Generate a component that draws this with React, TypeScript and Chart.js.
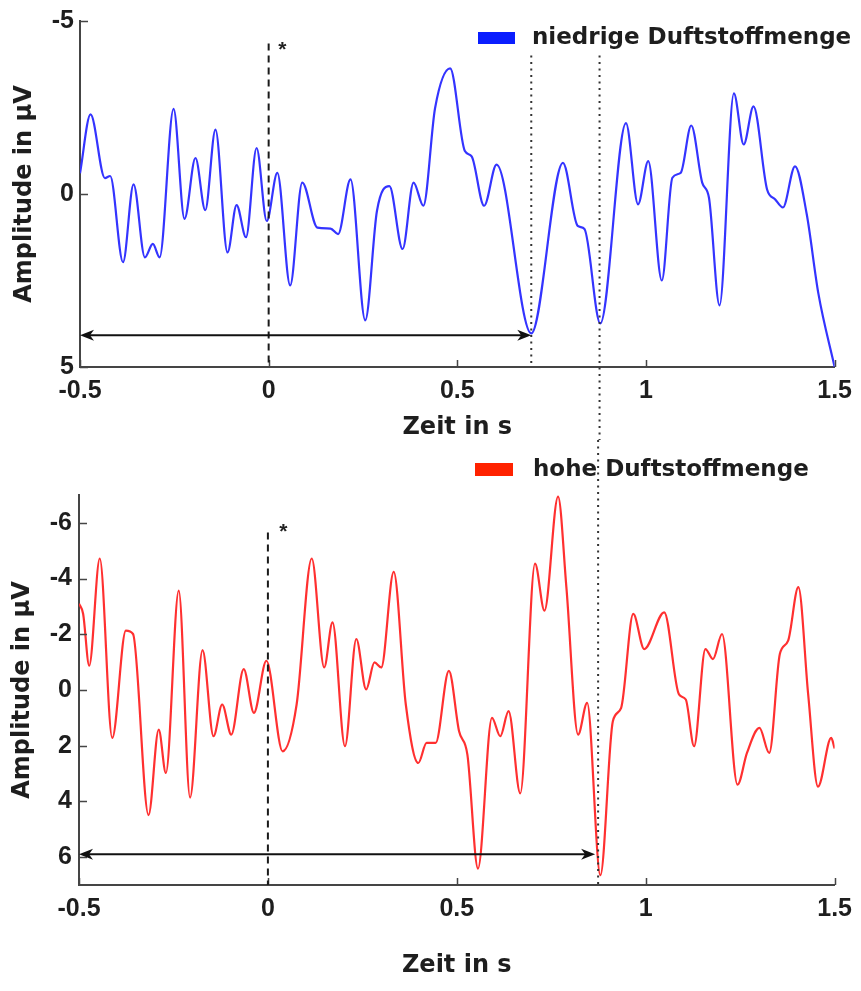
import React, { useEffect, useRef } from "react";
import { Chart, registerables } from "chart.js";

Chart.register(...registerables);

// ---------- data ----------
const xTicks = [-0.5, 0, 0.5, 1, 1.5];
const topYTicks = [-5, 0, 5];
const bottomYTicks = [-6, -4, -2, 0, 2, 4, 6];

const xTitle = "Zeit in s";
const yTitle = "Amplitude in µV";
const topLegend = "niedrige Duftstoffmenge";
const bottomLegend = "hohe Duftstoffmenge";

const blueX = [
  -0.5, -0.472, -0.434, -0.42, -0.386, -0.358, -0.328, -0.307, -0.289, -0.252,
  -0.223, -0.194, -0.168, -0.141, -0.109, -0.085, -0.06, -0.032, -0.005, 0.023,
  0.057, 0.089, 0.129, 0.164, 0.184, 0.217, 0.256, 0.287, 0.32, 0.355, 0.384,
  0.41, 0.441, 0.481, 0.52, 0.538, 0.571, 0.604, 0.696, 0.78, 0.819, 0.837,
  0.879, 0.947, 0.979, 1.006, 1.042, 1.07, 1.092, 1.12, 1.149, 1.167, 1.195,
  1.233, 1.259, 1.285, 1.321, 1.342, 1.363, 1.395, 1.426, 1.457, 1.5,
];
const blueY = [
  -0.6, -2.3, -0.46, -0.52, 1.97, -0.28, 1.83, 1.44, 1.83, -2.46, 0.72, -1.04,
  0.47, -1.86, 1.69, 0.32, 1.25, -1.33, 0.78, -0.61, 2.64, -0.33, 0.97, 1.0,
  1.16, -0.42, 3.65, 0.49, -0.23, 1.59, -0.33, 0.34, -2.48, -3.63, -1.24, -1.09,
  0.34, -0.85, 4.03, -0.9, 0.92, 1.01, 3.74, -2.05, 0.3, -0.95, 2.5, -0.47,
  -0.61, -1.98, -0.33, 0.11, 3.22, -2.91, -1.43, -2.53, -0.13, 0.15, 0.39, -0.8,
  0.58, 2.88, 5.0,
];

const redX = [
  -0.5, -0.489, -0.473, -0.445, -0.412, -0.376, -0.357, -0.316, -0.289, -0.27,
  -0.236, -0.206, -0.173, -0.144, -0.121, -0.097, -0.064, -0.037, -0.004, 0.039,
  0.076, 0.116, 0.149, 0.171, 0.204, 0.234, 0.26, 0.282, 0.3, 0.333, 0.365,
  0.398, 0.42, 0.444, 0.479, 0.506, 0.528, 0.556, 0.593, 0.615, 0.637, 0.668,
  0.707, 0.732, 0.768, 0.79, 0.821, 0.845, 0.88, 0.913, 0.935, 0.967, 0.996,
  1.049, 1.088, 1.106, 1.128, 1.158, 1.178, 1.202, 1.243, 1.268, 1.301, 1.327,
  1.355, 1.377, 1.404, 1.43, 1.456, 1.491, 1.5,
];
const redY = [
  -3.1, -2.73, -0.87, -4.72, 1.72, -2.13, -2.01, 4.49, 1.42, 2.98, -3.57, 3.86,
  -1.43, 1.66, 0.52, 1.6, -0.75, 0.82, -1.05, 2.2, 0.52, -4.72, -0.81, -2.43,
  2.02, -1.83, -0.02, -0.99, -0.81, -4.24, 0.52, 2.62, 1.9, 1.9, -0.69, 1.48,
  2.32, 6.41, 1.0, 1.66, 0.76, 3.71, -4.54, -2.85, -6.94, -3.69, 1.6, 0.46, 6.65,
  1.12, 0.64, -2.73, -1.47, -2.79, 0.16, 0.34, 2.02, -1.47, -1.11, -2.01, 3.4,
  2.26, 1.36, 2.26, -1.29, -1.77, -3.69, 0.16, 3.47, 1.72, 2.1,
];

// annotation values (data units)
const stimulusTime = 0;
const topPeakTimes = [0.696, 0.877];
const bottomPeakTime = 0.874;
const topArrowY = 4.08;
const bottomArrowY = 5.9;
const topDashedFrom = -4.35;
const topDottedFrom = -4.0;
const bottomDashedFrom = -5.65;
const topStar = { x: 0.036, y: -4.31 };
const bottomStar = { x: 0.041, y: -5.85 };

// ---------- styles ----------
const axisColor = "#454545";
const textColor = "#1e1e1e";
const blueLine = "#3434ff";
const redLine = "#ff3030";
const blueBox = "#0a1eff";
const redBox = "#ff2200";
const tickFont = { family: "'Liberation Sans', Arial, sans-serif", size: 25, weight: "bold" as const };
const titleFont = { family: "'DejaVu Sans', sans-serif", size: 24, weight: "bold" as const, lineHeight: 1 };

function drawInwardTicks(ctx: CanvasRenderingContext2D, chart: any, yTicks: number[]) {
  const a = chart.chartArea;
  const sx = chart.scales.x;
  const sy = chart.scales.y;
  ctx.save();
  ctx.strokeStyle = axisColor;
  ctx.lineWidth = 1.5;
  ctx.beginPath();
  for (const v of xTicks) {
    const px = Math.round(sx.getPixelForValue(v)) + 0.5;
    ctx.moveTo(px, a.bottom);
    ctx.lineTo(px, a.bottom - 7);
  }
  for (const v of yTicks) {
    const py = Math.round(sy.getPixelForValue(v)) + 0.5;
    ctx.moveTo(a.left, py);
    ctx.lineTo(a.left + 8, py);
  }
  ctx.stroke();
  ctx.restore();
}

function vline(ctx: CanvasRenderingContext2D, x: number, y0: number, y1: number, dash: number[], color: string) {
  ctx.save();
  ctx.strokeStyle = color;
  ctx.lineWidth = 2;
  ctx.setLineDash(dash);
  ctx.beginPath();
  ctx.moveTo(x, y0);
  ctx.lineTo(x, y1);
  ctx.stroke();
  ctx.restore();
}

function arrowHead(ctx: CanvasRenderingContext2D, tipX: number, y: number, dir: number) {
  ctx.beginPath();
  ctx.moveTo(tipX, y);
  ctx.lineTo(tipX + dir * 14, y - 5.5);
  ctx.lineTo(tipX + dir * 10, y);
  ctx.lineTo(tipX + dir * 14, y + 5.5);
  ctx.closePath();
  ctx.fill();
}

function doubleArrow(ctx: CanvasRenderingContext2D, x0: number, x1: number, y: number) {
  ctx.save();
  ctx.strokeStyle = "#111";
  ctx.fillStyle = "#111";
  ctx.lineWidth = 2;
  ctx.beginPath();
  ctx.moveTo(x0 + 4, y);
  ctx.lineTo(x1 - 4, y);
  ctx.stroke();
  arrowHead(ctx, x0, y, 1);
  arrowHead(ctx, x1, y, -1);
  ctx.restore();
}

function star(ctx: CanvasRenderingContext2D, x: number, y: number) {
  ctx.save();
  ctx.fillStyle = "#222";
  ctx.font = "bold 21px 'Liberation Sans', Arial, sans-serif";
  ctx.textAlign = "center";
  ctx.textBaseline = "middle";
  ctx.fillText("*", x, y + 5);
  ctx.restore();
}

function legend(ctx: CanvasRenderingContext2D, bx: number, by: number, bw: number, bh: number, color: string, text: string, tx: number, ty: number) {
  ctx.save();
  ctx.fillStyle = color;
  ctx.fillRect(bx, by, bw, bh);
  ctx.fillStyle = textColor;
  ctx.font = "bold 23px 'DejaVu Sans', sans-serif";
  ctx.textAlign = "left";
  ctx.textBaseline = "middle";
  ctx.fillText(text, tx, ty);
  ctx.restore();
}

const topDeco = {
  id: "topDeco",
  afterDraw(chart: any) {
    const ctx = chart.ctx as CanvasRenderingContext2D;
    const a = chart.chartArea;
    const sx = chart.scales.x;
    const sy = chart.scales.y;
    drawInwardTicks(ctx, chart, topYTicks);
    const x0 = sx.getPixelForValue(stimulusTime);
    vline(ctx, x0, sy.getPixelForValue(topDashedFrom), a.bottom, [7, 5], "#1a1a1a");
    vline(ctx, sx.getPixelForValue(topPeakTimes[0]), sy.getPixelForValue(topDottedFrom), a.bottom, [2, 4.5], "#333");
    vline(ctx, sx.getPixelForValue(topPeakTimes[1]), sy.getPixelForValue(topDottedFrom), chart.height, [2, 4.5], "#333");
    doubleArrow(ctx, a.left, sx.getPixelForValue(topPeakTimes[0]), sy.getPixelForValue(topArrowY));
    star(ctx, sx.getPixelForValue(topStar.x), sy.getPixelForValue(topStar.y));
    legend(ctx, 478, 32, 37, 12, blueBox, topLegend, 532, 38);
  },
};

const bottomDeco = {
  id: "bottomDeco",
  afterDraw(chart: any) {
    const ctx = chart.ctx as CanvasRenderingContext2D;
    const a = chart.chartArea;
    const sx = chart.scales.x;
    const sy = chart.scales.y;
    drawInwardTicks(ctx, chart, bottomYTicks);
    const x0 = sx.getPixelForValue(stimulusTime);
    vline(ctx, x0, sy.getPixelForValue(bottomDashedFrom), a.bottom, [7, 5], "#1a1a1a");
    vline(ctx, sx.getPixelForValue(bottomPeakTime), 0, a.bottom, [2, 4.5], "#333");
    doubleArrow(ctx, a.left, sx.getPixelForValue(bottomPeakTime) - 3, sy.getPixelForValue(bottomArrowY));
    star(ctx, sx.getPixelForValue(bottomStar.x), sy.getPixelForValue(bottomStar.y));
    legend(ctx, 475, 23, 38, 13, redBox, bottomLegend, 533, 30);
  },
};

function makeConfig(o: any) {
  return {
    type: "line",
    data: {
      datasets: [
        {
          data: o.xs.map((x: number, i: number) => ({ x, y: o.ys[i] })),
          borderColor: o.color,
          borderWidth: 2.2,
          pointRadius: 0,
          cubicInterpolationMode: "monotone",
          fill: false,
        },
      ],
    },
    options: {
      responsive: false,
      animation: false,
      events: [],
      layout: { padding: o.padding },
      plugins: { legend: { display: false }, tooltip: { enabled: false } },
      scales: {
        x: {
          type: "linear",
          min: -0.5,
          max: 1.5,
          afterBuildTicks: (s: any) => {
            s.ticks = xTicks.map((v) => ({ value: v }));
          },
          afterFit: (s: any) => {
            s.height = o.xHeight;
          },
          grid: { display: false, drawTicks: false },
          border: { display: true, color: axisColor, width: 2 },
          ticks: {
            padding: o.xTickPad,
            autoSkip: false,
            maxRotation: 0,
            font: tickFont,
            color: textColor,
            callback: (v: any) => String(v),
          },
          title: { display: true, text: xTitle, font: titleFont, color: textColor, padding: { top: 0, bottom: o.xTitlePad } },
        },
        y: {
          type: "linear",
          reverse: true,
          min: o.yMin,
          max: o.yMax,
          afterBuildTicks: (s: any) => {
            s.ticks = o.yTicks.map((v: number) => ({ value: v }));
          },
          afterFit: (s: any) => {
            s.width = o.yWidth;
          },
          grid: { display: false, drawTicks: false },
          border: { display: true, color: axisColor, width: 2 },
          ticks: {
            padding: o.yTickPad,
            autoSkip: false,
            font: tickFont,
            color: textColor,
            callback: (v: any) => String(v),
          },
          title: { display: true, text: yTitle, font: titleFont, color: textColor, padding: { top: o.yTitlePad, bottom: 0 } },
        },
      },
    },
    plugins: [o.deco],
  };
}

export default function App() {
  const topRef = useRef<HTMLCanvasElement>(null);
  const bottomRef = useRef<HTMLCanvasElement>(null);

  useEffect(() => {
    const c1 = new Chart(
      topRef.current as HTMLCanvasElement,
      makeConfig({
        xs: blueX,
        ys: blueY,
        color: blueLine,
        yMin: -5,
        yMax: 5,
        yTicks: topYTicks,
        yWidth: 80,
        xHeight: 73,
        padding: { left: 0, right: 23, top: 19, bottom: 0 },
        xTickPad: 9,
        yTickPad: 6,
        xTitlePad: 0,
        yTitlePad: 12.5,
        deco: topDeco,
      }) as any
    );
    const c2 = new Chart(
      bottomRef.current as HTMLCanvasElement,
      makeConfig({
        xs: redX,
        ys: redY,
        color: redLine,
        yMin: -7,
        yMax: 7,
        yTicks: bottomYTicks,
        yWidth: 79,
        xHeight: 106,
        padding: { left: 0, right: 21, top: 55, bottom: 0 },
        xTickPad: 9,
        yTickPad: 7,
        xTitlePad: 13,
        yTitlePad: 10.5,
        deco: bottomDeco,
      }) as any
    );
    return () => {
      c1.destroy();
      c2.destroy();
    };
  }, []);

  return (
    <div style={{ position: "absolute", left: 0, top: 0, width: 861, height: 991, background: "#fff" }}>
      <canvas ref={topRef} width={861} height={440} style={{ display: "block" }} />
      <canvas ref={bottomRef} width={861} height={551} style={{ display: "block" }} />
    </div>
  );
}
